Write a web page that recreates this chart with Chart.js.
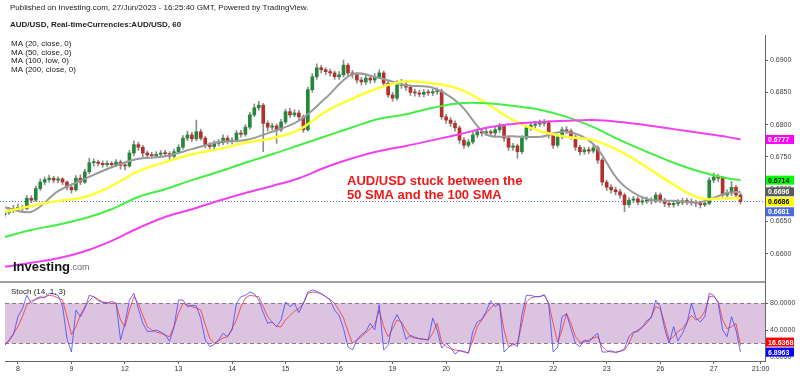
<!DOCTYPE html>
<html>
<head>
<meta charset="utf-8">
<script src="https://cdn.jsdelivr.net/npm/chart.js@4"></script>
<style>
  html, body { margin: 0; padding: 0; background: #fff; }
  #wrap { position: relative; width: 800px; height: 376px; overflow: hidden; }
  #priceChart { position: absolute; left: 0; top: 0; }
  #stochChart { position: absolute; left: 0; top: 281px; }
</style>
</head>
<body>
<div id="wrap">
  <canvas id="priceChart" width="800" height="281"></canvas>
  <canvas id="stochChart" width="800" height="95"></canvas>
</div>
<script>
// texts
const headerLines = [
  "Published on Investing.com, 27/Jun/2023 - 16:25:40 GMT, Powered by TradingView.",
  "AUD/USD, Real-timeCurrencies:AUD/USD, 60"
];
const maLegend = ["MA (20, close, 0)", "MA (50, close, 0)", "MA (100, low, 0)", "MA (200, close, 0)"];
const noteLines = ["AUD/USD stuck between the", "50 SMA and the 100 SMA"];
const stochTitle = "Stoch (14, 1, 3)";

// x axis: hours counted from the "8" label, trading days of 24h
const dayTicks = [0, 24, 48, 72, 96, 120, 144, 168, 192, 216, 240, 264, 288, 312, 333];
const dayLabels = ["8", "9", "12", "13", "14", "15", "16", "19", "20", "21", "22", "23", "26", "27", "21:00"];

// price ticks / stoch ticks
const priceTicks = [0.6600, 0.6650, 0.6700, 0.6750, 0.6800, 0.6850, 0.6900];
const stochTicks = [0, 40, 80];
const stochLevels = [20, 80];

// candles (2h), open = previous close
const firstOpen = 0.6660;
const closes = [
  0.6664, 0.6668, 0.6670, 0.6672, 0.6670, 0.6686, 0.6683, 0.6701, 0.6711, 0.6715,
  0.6717, 0.6714, 0.6716, 0.6711, 0.6703, 0.6699, 0.6717, 0.6711, 0.6727, 0.6741,
  0.6742, 0.6740, 0.6738, 0.6740, 0.6738, 0.6742, 0.6737, 0.6736, 0.6756, 0.6769,
  0.6765, 0.6756, 0.6753, 0.6752, 0.6754, 0.6756, 0.6755, 0.6751, 0.6758, 0.6765,
  0.6779, 0.6784, 0.6778, 0.6789, 0.6779, 0.6768, 0.6766, 0.6771, 0.6772, 0.6779,
  0.6774, 0.6776, 0.6787, 0.6785, 0.6796, 0.6815, 0.6826, 0.6830, 0.6802, 0.6796,
  0.6798, 0.6792, 0.6804, 0.6820, 0.6815, 0.6818, 0.6812, 0.6792, 0.6854, 0.6874,
  0.6888, 0.6885, 0.6882, 0.6880, 0.6874, 0.6877, 0.6892, 0.6880, 0.6877, 0.6869,
  0.6866, 0.6872, 0.6869, 0.6874, 0.6880, 0.6864, 0.6846, 0.6841, 0.6861, 0.6862,
  0.6858, 0.6850, 0.6849, 0.6847, 0.6850, 0.6849, 0.6851, 0.6852, 0.6812, 0.6807,
  0.6802, 0.6795, 0.6776, 0.6768, 0.6773, 0.6784, 0.6789, 0.6787, 0.6789, 0.6787,
  0.6792, 0.6797, 0.6779, 0.6765, 0.6767, 0.6758, 0.6779, 0.6795, 0.6799, 0.6801,
  0.6802, 0.6803, 0.6784, 0.6768, 0.6781, 0.6792, 0.6790, 0.6781, 0.6765, 0.6758,
  0.6761, 0.6759, 0.6764, 0.6745, 0.6711, 0.6703, 0.6699, 0.6696, 0.6691, 0.6676,
  0.6683, 0.6685, 0.6680, 0.6682, 0.6683, 0.6682, 0.6691, 0.6683, 0.6678, 0.6676,
  0.6678, 0.6679, 0.6682, 0.6681, 0.6679, 0.6678, 0.6676, 0.6678, 0.6714, 0.6719,
  0.6717, 0.6691, 0.6694, 0.6703, 0.6691, 0.6681
];
const highs = [
  0.6668, 0.6672, 0.6675, 0.6677, 0.6675, 0.6690, 0.6690, 0.6705, 0.6716, 0.6719,
  0.6722, 0.6720, 0.6719, 0.6718, 0.6713, 0.6706, 0.6721, 0.6722, 0.6731, 0.6748,
  0.6747, 0.6745, 0.6744, 0.6744, 0.6743, 0.6746, 0.6745, 0.6741, 0.6760, 0.6775,
  0.6773, 0.6768, 0.6759, 0.6757, 0.6758, 0.6760, 0.6760, 0.6758, 0.6762, 0.6769,
  0.6783, 0.6790, 0.6788, 0.6807, 0.6793, 0.6782, 0.6772, 0.6775, 0.6777, 0.6784,
  0.6783, 0.6780, 0.6791, 0.6791, 0.6800, 0.6819, 0.6832, 0.6836, 0.6833, 0.6806,
  0.6802, 0.6801, 0.6808, 0.6824, 0.6825, 0.6823, 0.6822, 0.6815, 0.6858, 0.6879,
  0.6894, 0.6892, 0.6888, 0.6886, 0.6883, 0.6882, 0.6900, 0.6895, 0.6884, 0.6880,
  0.6873, 0.6877, 0.6876, 0.6879, 0.6885, 0.6883, 0.6867, 0.6850, 0.6868, 0.6870,
  0.6866, 0.6861, 0.6855, 0.6853, 0.6854, 0.6854, 0.6855, 0.6857, 0.6855, 0.6816,
  0.6811, 0.6806, 0.6798, 0.6780, 0.6777, 0.6788, 0.6793, 0.6793, 0.6794, 0.6792,
  0.6797, 0.6802, 0.6800, 0.6782, 0.6771, 0.6770, 0.6783, 0.6799, 0.6804, 0.6805,
  0.6807, 0.6808, 0.6806, 0.6787, 0.6785, 0.6796, 0.6797, 0.6793, 0.6784, 0.6768,
  0.6765, 0.6765, 0.6769, 0.6767, 0.6748, 0.6714, 0.6707, 0.6703, 0.6700, 0.6694,
  0.6687, 0.6689, 0.6688, 0.6686, 0.6688, 0.6687, 0.6695, 0.6694, 0.6686, 0.6682,
  0.6682, 0.6684, 0.6686, 0.6686, 0.6685, 0.6683, 0.6681, 0.6682, 0.6718, 0.6725,
  0.6723, 0.6720, 0.6699, 0.6712, 0.6706, 0.6694
];
const lows = [
  0.6656, 0.6661, 0.6664, 0.6666, 0.6665, 0.6668, 0.6679, 0.6681, 0.6698, 0.6707,
  0.6711, 0.6710, 0.6710, 0.6707, 0.6699, 0.6694, 0.6697, 0.6707, 0.6709, 0.6724,
  0.6736, 0.6736, 0.6734, 0.6735, 0.6733, 0.6735, 0.6731, 0.6730, 0.6734, 0.6752,
  0.6760, 0.6750, 0.6748, 0.6748, 0.6749, 0.6750, 0.6751, 0.6744, 0.6748, 0.6755,
  0.6762, 0.6775, 0.6774, 0.6775, 0.6776, 0.6764, 0.6762, 0.6762, 0.6767, 0.6769,
  0.6770, 0.6770, 0.6773, 0.6781, 0.6782, 0.6793, 0.6812, 0.6822, 0.6758, 0.6790,
  0.6792, 0.6771, 0.6789, 0.6801, 0.6811, 0.6812, 0.6807, 0.6788, 0.6790, 0.6850,
  0.6870, 0.6880, 0.6877, 0.6875, 0.6870, 0.6870, 0.6874, 0.6876, 0.6872, 0.6864,
  0.6861, 0.6862, 0.6864, 0.6865, 0.6871, 0.6860, 0.6842, 0.6836, 0.6838, 0.6856,
  0.6853, 0.6845, 0.6844, 0.6843, 0.6843, 0.6845, 0.6845, 0.6847, 0.6808, 0.6802,
  0.6797, 0.6790, 0.6771, 0.6763, 0.6765, 0.6770, 0.6780, 0.6782, 0.6783, 0.6782,
  0.6783, 0.6788, 0.6774, 0.6760, 0.6760, 0.6748, 0.6755, 0.6776, 0.6791, 0.6795,
  0.6797, 0.6798, 0.6779, 0.6763, 0.6765, 0.6778, 0.6786, 0.6777, 0.6760, 0.6753,
  0.6754, 0.6755, 0.6756, 0.6740, 0.6706, 0.6698, 0.6694, 0.6691, 0.6686, 0.6665,
  0.6672, 0.6679, 0.6676, 0.6676, 0.6678, 0.6677, 0.6679, 0.6679, 0.6673, 0.6672,
  0.6672, 0.6674, 0.6676, 0.6676, 0.6675, 0.6673, 0.6671, 0.6673, 0.6676, 0.6710,
  0.6712, 0.6687, 0.6687, 0.6690, 0.6687, 0.6677
];

// moving averages, sampled every 12h
const maHours = [-6, 6, 18, 30, 42, 54, 66, 78, 90, 102, 114, 126, 138, 150, 162, 174, 186, 198, 210, 222, 234, 246, 258, 270, 282, 294, 306, 318, 324];
const ma20 = [0.6672, 0.6665, 0.6697, 0.6716, 0.6734, 0.6747, 0.6751, 0.6762, 0.6773, 0.6776, 0.6789, 0.6806, 0.6841, 0.6878, 0.6872, 0.6861, 0.6857, 0.6832, 0.6785, 0.6782, 0.6781, 0.6789, 0.6770, 0.6711, 0.6685, 0.6682, 0.6680, 0.6694, 0.6696];
const ma50 = [0.6665, 0.6674, 0.6682, 0.6688, 0.6705, 0.6728, 0.6742, 0.6754, 0.6762, 0.6772, 0.6779, 0.6792, 0.6820, 0.6840, 0.6857, 0.6867, 0.6864, 0.6855, 0.6833, 0.6807, 0.6790, 0.6781, 0.6776, 0.6759, 0.6734, 0.6707, 0.6686, 0.6686, 0.6686];
const ma100 = [0.6626, 0.6637, 0.6645, 0.6655, 0.6669, 0.6688, 0.6700, 0.6714, 0.6727, 0.6741, 0.6754, 0.6768, 0.6782, 0.6796, 0.6809, 0.6816, 0.6826, 0.6833, 0.6833, 0.6829, 0.6823, 0.6812, 0.6796, 0.6776, 0.6758, 0.6741, 0.6727, 0.6717, 0.6714];
const ma200 = [0.6580, 0.6586, 0.6593, 0.6604, 0.6620, 0.6640, 0.6657, 0.6669, 0.6682, 0.6694, 0.6705, 0.6717, 0.6734, 0.6748, 0.6759, 0.6767, 0.6776, 0.6785, 0.6795, 0.6801, 0.6804, 0.6806, 0.6807, 0.6804, 0.6799, 0.6793, 0.6787, 0.6781, 0.6777];

// stochastic %K (blue) and %D (red), same 2h steps as the candles
const stochK = [
  17, 24, 33, 60, 72, 92, 80, 87, 90, 88,
  95, 94, 92, 76, 27, 7, 70, 60, 72, 92,
  90, 84, 81, 80, 83, 80, 25, 50, 85, 95,
  72, 50, 38, 38, 40, 37, 33, 23, 45, 85,
  85, 75, 77, 76, 57, 25, 15, 18, 25, 35,
  30, 40, 80, 90, 92, 97, 94, 85, 66, 50,
  52, 45, 55, 82, 75, 80, 66, 80, 97, 100,
  98, 94, 90, 85, 70, 62, 42, 15, 10, 25,
  33, 38, 50, 40, 78, 10, 17, 50, 63, 50,
  26, 32, 29, 27, 26, 25, 58, 40, 13, 20,
  14, 4, 9, 8, 5, 38, 52, 56, 68, 84,
  75, 80, 7, 14, 20, 15, 63, 92, 92, 90,
  90, 93, 80, 7, 14, 60, 64, 42, 20, 15,
  25, 22, 30, 35, 7, 7, 9, 6, 8, 12,
  30, 37, 38, 44, 54, 58, 85, 75, 42, 20,
  45, 24, 35, 50, 80, 58, 52, 60, 95, 92,
  80, 40, 30, 60, 40, 6.8963
];
const stochD = [
  17, 25, 35, 45, 60, 78, 84, 86, 88, 90,
  92, 91, 88, 85, 60, 33, 45, 62, 75, 84,
  90, 86, 82, 81, 80, 80, 55, 45, 70, 90,
  80, 62, 45, 40, 37, 35, 32, 30, 45, 65,
  80, 78, 75, 73, 70, 48, 28, 20, 24, 28,
  30, 42, 55, 75, 88, 92, 91, 90, 75, 60,
  52, 45, 45, 55, 62, 68, 72, 80, 95, 97,
  96, 95, 90, 86, 80, 70, 58, 38, 20, 25,
  30, 36, 42, 48, 70, 45, 30, 42, 55, 52,
  40, 30, 28, 27, 26, 25, 35, 50, 22, 15,
  12, 10, 9, 7, 6, 25, 45, 55, 65, 73,
  80, 77, 40, 15, 18, 20, 50, 82, 88, 90,
  90, 92, 80, 50, 22, 40, 65, 50, 30, 22,
  22, 25, 28, 30, 15, 9, 7, 7, 8, 10,
  20, 35, 40, 45, 50, 60, 75, 72, 50, 25,
  30, 38, 42, 52, 62, 55, 58, 68, 90, 90,
  83, 55, 42, 45, 50, 16.6368
];

const FONT = "'Liberation Sans', Arial, sans-serif";
const UP = "#23883a";
const DOWN = "#b3302b";
const WICK = "#8c8c8c";
const X_MIN = -5.8, X_MAX = 335;

const candleHours = closes.map((_, i) => -6 + 2 * i);
const opens = closes.map((c, i) => (i === 0 ? firstOpen : closes[i - 1]));
const candleColors = closes.map((c, i) => (c >= opens[i] ? UP : DOWN));

function maSeries(values) {
  return values.map((v, i) => ({ x: maHours[i], y: v }));
}

function maLine(values, color, width) {
  return {
    type: "line",
    data: maSeries(values),
    borderColor: color,
    borderWidth: width,
    pointRadius: 0,
    tension: 0.35,
    order: 0
  };
}

// no extra room for half labels, the panels must fill their canvas exactly
function noPadding(s) {
  s.paddingTop = 0;
  s.paddingBottom = 0;
  s.paddingLeft = 0;
  s.paddingRight = 0;
}

// colored boxes on the right axis, pushed apart when they overlap
function drawValueBoxes(chart, items, dir) {
  const ctx = chart.ctx;
  const scale = chart.scales.y;
  const left = chart.chartArea.right + 1;
  const boxes = items.map((it) => Object.assign({}, it, { py: scale.getPixelForValue(it.value) }));
  boxes.sort((a, b) => dir * (a.py - b.py));
  for (let k = 1; k < boxes.length; k++) {
    const prev = boxes[k - 1].py;
    if (dir > 0 && boxes[k].py < prev + 10) boxes[k].py = prev + 10;
    if (dir < 0 && boxes[k].py > prev - 10) boxes[k].py = prev - 10;
  }
  ctx.save();
  ctx.font = "bold 7px " + FONT;
  ctx.textBaseline = "middle";
  boxes.forEach((b) => {
    ctx.fillStyle = b.bg;
    ctx.fillRect(left, b.py - 4.5, 28, 9);
    ctx.fillStyle = b.fg;
    ctx.fillText(b.value.toFixed(4), left + 2, b.py + 0.5);
  });
  ctx.restore();
}

const pricePlugin = {
  id: "priceDecor",
  beforeDatasetsDraw(chart) {
    // dotted line at the last price
    const ctx = chart.ctx;
    const y = Math.round(chart.scales.y.getPixelForValue(closes[closes.length - 1])) + 0.5;
    ctx.save();
    ctx.strokeStyle = "#5a72d8";
    ctx.lineWidth = 1;
    ctx.setLineDash([1, 2]);
    ctx.beginPath();
    ctx.moveTo(0, y);
    ctx.lineTo(chart.chartArea.right, y);
    ctx.stroke();
    ctx.restore();
  },
  afterDraw(chart) {
    const ctx = chart.ctx;
    ctx.save();
    ctx.textBaseline = "middle";
    ctx.fillStyle = "#222";
    ctx.font = "8px " + FONT;
    ctx.fillText(headerLines[0], 10, 7.5);
    ctx.font = "bold 8px " + FONT;
    ctx.fillText(headerLines[1], 10, 24.5);
    ctx.font = "8px " + FONT;
    maLegend.forEach((t, k) => ctx.fillText(t, 11, 43.5 + k * 8.8));

    ctx.fillStyle = "#f01818";
    ctx.font = "bold 13px " + FONT;
    ctx.fillText(noteLines[0], 347, 181);
    ctx.fillText(noteLines[1], 347, 195.5);

    // Investing.com logo
    ctx.fillStyle = "#111";
    ctx.font = "bold 13px " + FONT;
    ctx.fillText("Investing", 13, 267);
    const w = ctx.measureText("Investing").width;
    ctx.fillStyle = "#666";
    ctx.font = "9px " + FONT;
    ctx.fillText(".com", 13 + w, 268);
    ctx.restore();

    drawValueBoxes(chart, [
      { value: ma200[ma200.length - 1], bg: "#ff00ff", fg: "#fff" },
      { value: ma100[ma100.length - 1], bg: "#00ff00", fg: "#000" },
      { value: ma20[ma20.length - 1], bg: "#5c5c5c", fg: "#fff" },
      { value: ma50[ma50.length - 1], bg: "#ffff00", fg: "#000" },
      { value: closes[closes.length - 1], bg: "#4a6be0", fg: "#fff" }
    ], 1);
  }
};

const stochPlugin = {
  id: "stochDecor",
  beforeDatasetsDraw(chart) {
    const ctx = chart.ctx;
    const area = chart.chartArea;
    const ys = chart.scales.y;
    const top = ys.getPixelForValue(stochLevels[1]);
    const bottom = ys.getPixelForValue(stochLevels[0]);
    ctx.save();
    ctx.fillStyle = "#dcc3df";
    ctx.fillRect(area.left, top, area.right - area.left, bottom - top);
    ctx.strokeStyle = "#8a7a8c";
    ctx.lineWidth = 1;
    ctx.setLineDash([4, 3]);
    [top, bottom].forEach((y) => {
      ctx.beginPath();
      ctx.moveTo(area.left, Math.round(y) + 0.5);
      ctx.lineTo(area.right, Math.round(y) + 0.5);
      ctx.stroke();
    });
    ctx.restore();
  },
  afterDraw(chart) {
    const ctx = chart.ctx;
    ctx.save();
    // panel separator
    ctx.strokeStyle = "#a0a0a0";
    ctx.lineWidth = 2;
    ctx.beginPath();
    ctx.moveTo(0, 1);
    ctx.lineTo(chart.chartArea.right, 1);
    ctx.stroke();
    ctx.fillStyle = "#222";
    ctx.font = "8px " + FONT;
    ctx.textBaseline = "middle";
    ctx.fillText(stochTitle, 11, 10.5);
    ctx.restore();

    drawValueBoxes(chart, [
      { value: stochK[stochK.length - 1], bg: "#0000ff", fg: "#fff" },
      { value: stochD[stochD.length - 1], bg: "#ff0000", fg: "#fff" }
    ], -1);
  }
};

function rightAxis(min, max, ticks) {
  return {
    position: "right",
    min: min,
    max: max,
    grid: { drawOnChartArea: false, tickLength: 3, color: "#666" },
    border: { color: "#666" },
    afterBuildTicks: (s) => { s.ticks = ticks.map((v) => ({ value: v })); },
    afterFit: (s) => { s.width = 35; noPadding(s); },
    ticks: {
      autoSkip: false,
      padding: 2,
      color: "#444",
      font: { size: 7, family: FONT },
      callback: (v) => Number(v).toFixed(4)
    }
  };
}

new Chart(document.getElementById("priceChart"), {
  type: "bar",
  data: {
    datasets: [
      maLine(ma200, "#f040f0", 2),
      maLine(ma100, "#44ee44", 2),
      maLine(ma50, "#ffff33", 2.5),
      maLine(ma20, "#9a9a9a", 2),
      {
        data: candleHours.map((h, i) => ({ x: h, y: [opens[i], closes[i]] })),
        backgroundColor: candleColors,
        barThickness: 3,
        minBarLength: 1,
        grouped: false,
        order: 1
      },
      {
        data: candleHours.map((h, i) => ({ x: h, y: [lows[i], highs[i]] })),
        backgroundColor: WICK,
        barThickness: 1,
        grouped: false,
        order: 2
      }
    ]
  },
  options: {
    responsive: false,
    animation: false,
    events: [],
    layout: { padding: { left: 5, top: 35, right: 0, bottom: 0 } },
    plugins: { legend: { display: false }, tooltip: { enabled: false } },
    scales: {
      x: {
        type: "linear", min: X_MIN, max: X_MAX, offset: false, display: false,
        grid: { offset: false }, afterFit: noPadding
      },
      y: rightAxis(0.65579, 0.69387, priceTicks)
    }
  },
  plugins: [pricePlugin]
});

new Chart(document.getElementById("stochChart"), {
  type: "line",
  data: {
    datasets: [
      {
        data: stochK.map((v, i) => ({ x: candleHours[i], y: v })),
        borderColor: "rgba(70, 70, 250, 0.8)",
        borderWidth: 1,
        pointRadius: 0,
        tension: 0
      },
      {
        data: stochD.map((v, i) => ({ x: candleHours[i], y: v })),
        borderColor: "rgba(245, 60, 60, 0.85)",
        borderWidth: 1,
        pointRadius: 0,
        tension: 0
      }
    ]
  },
  options: {
    responsive: false,
    animation: false,
    events: [],
    layout: { padding: { left: 5, top: 0, right: 0, bottom: 0 } },
    plugins: { legend: { display: false }, tooltip: { enabled: false } },
    scales: {
      x: {
        type: "linear",
        min: X_MIN,
        max: X_MAX,
        grid: { drawOnChartArea: false, tickLength: 3, color: "#666" },
        border: { color: "#666" },
        afterBuildTicks: (s) => { s.ticks = dayTicks.map((v) => ({ value: v })); },
        afterFit: (s) => { s.height = 15; noPadding(s); },
        ticks: {
          autoSkip: false,
          maxRotation: 0,
          padding: 1,
          color: "#333",
          font: { size: 7, family: FONT },
          callback: (v, i) => dayLabels[i]
        }
      },
      y: rightAxis(-6.5, 113.5, stochTicks)
    }
  },
  plugins: [stochPlugin]
});
</script>
</body>
</html>
